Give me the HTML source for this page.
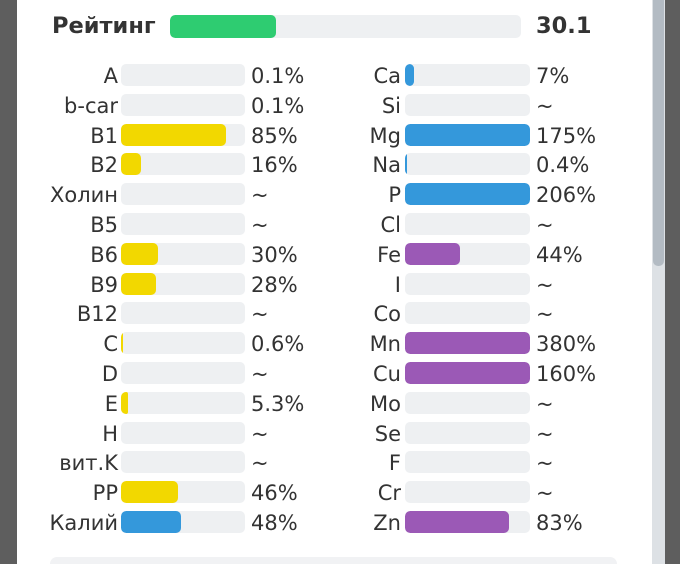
<!DOCTYPE html>
<html style="overflow:hidden;width:680px;height:564px"><head><meta charset="utf-8">
<style>
body{margin:0;width:680px;height:564px;overflow:hidden;background:#5e5e5e;font-family:"DejaVu Sans","Liberation Sans",sans-serif;position:relative}
#card{position:absolute;left:17px;top:0;width:635px;height:564px;background:#fff}
#track{position:absolute;left:652px;top:0;width:13px;height:564px;background:#dde1e5}
#thumb{position:absolute;left:653px;top:0;width:11px;height:266px;background:#b3bbc3;border-radius:0 0 5px 5px}
.t{position:absolute;color:#333;font-size:21px;line-height:24px;white-space:nowrap}
.bar{position:absolute;height:22px;border-radius:5px;background:#eef0f2;overflow:hidden}
.fill{position:absolute;left:0;top:0;height:22px;border-radius:5px}
#bottombox{position:absolute;left:50px;top:557px;width:567px;height:7px;background:#f1f2f4;border-radius:10px 10px 0 0}
</style></head><body>
<div id="card"></div>
<div id="track"></div>
<div id="thumb"></div>
<div class="t" style="left:52px;top:14px;font-weight:bold;font-size:22.5px">Рейтинг</div>
<div class="bar" style="left:170px;top:15px;width:351px;height:23px"><div class="fill" id="rfill" style="background:#2ecc71;height:23px"></div></div>
<div class="t" id="rval" style="left:536px;top:14px;font-weight:bold;font-size:22.5px"></div>
<div id="bottombox"></div>
<script>
const ratingValue = 30.1;
const leftNames = ["A","b-car","B1","B2","Холин","B5","B6","B9","B12","C","D","E","H","вит.K","PP","Калий"];
const leftValues = [0.1,0.1,85,16,null,null,30,28,null,0.6,null,5.3,null,null,46,48];
const leftLabels = ["0.1%","0.1%","85%","16%","~","~","30%","28%","~","0.6%","~","5.3%","~","~","46%","48%"];
const leftColors = ["y","y","y","y","y","y","y","y","y","y","y","y","y","y","y","b"];
const rightNames = ["Ca","Si","Mg","Na","P","Cl","Fe","I","Co","Mn","Cu","Mo","Se","F","Cr","Zn"];
const rightValues = [7,null,175,0.4,206,null,44,null,null,380,160,null,null,null,null,83];
const rightLabels = ["7%","~","175%","0.4%","206%","~","44%","~","~","380%","160%","~","~","~","~","83%"];
const rightColors = ["b","b","b","b","b","b","p","p","p","p","p","p","p","p","p","p"];
const pal={y:"#f2d800",b:"#3498db",p:"#9b59b6"};
document.getElementById('rfill').style.width=(351*ratingValue/100)+'px';
document.getElementById('rval').textContent=ratingValue;
function col(names,vals,labels,colors,labelRight,barX,barW,valX,side){
  names.forEach((n,i)=>{
    const cy=75+i*29.8;
    const l=document.createElement('div');l.className='t';
    
    
    l.style.right=(680-labelRight)+'px';l.style.top=(cy-11)+'px';l.textContent=n;document.body.appendChild(l);
    const b=document.createElement('div');b.className='bar';
    
    
    b.style.left=barX+'px';b.style.top=(cy-11)+'px';b.style.width=barW+'px';
    if(vals[i]!==null){
      let w=barW*Math.min(vals[i],100)/100;
      if(w>=0.5){
        if(w<2)w=2;
        const f=document.createElement('div');f.className='fill';
        
        
        f.style.width=w+'px';f.style.background=pal[colors[i]];if(w<8)f.style.borderRadius='2px';b.appendChild(f);
      }
    }
    document.body.appendChild(b);
    const v=document.createElement('div');v.className='t';
    
    
    v.style.left=valX+'px';v.style.top=(cy-11)+'px';v.textContent=labels[i];document.body.appendChild(v);
  });
}
col(leftNames,leftValues,leftLabels,leftColors,118,121,124,251,'left');
col(rightNames,rightValues,rightLabels,rightColors,401,405,125,536,'right');
</script>
</body></html>
